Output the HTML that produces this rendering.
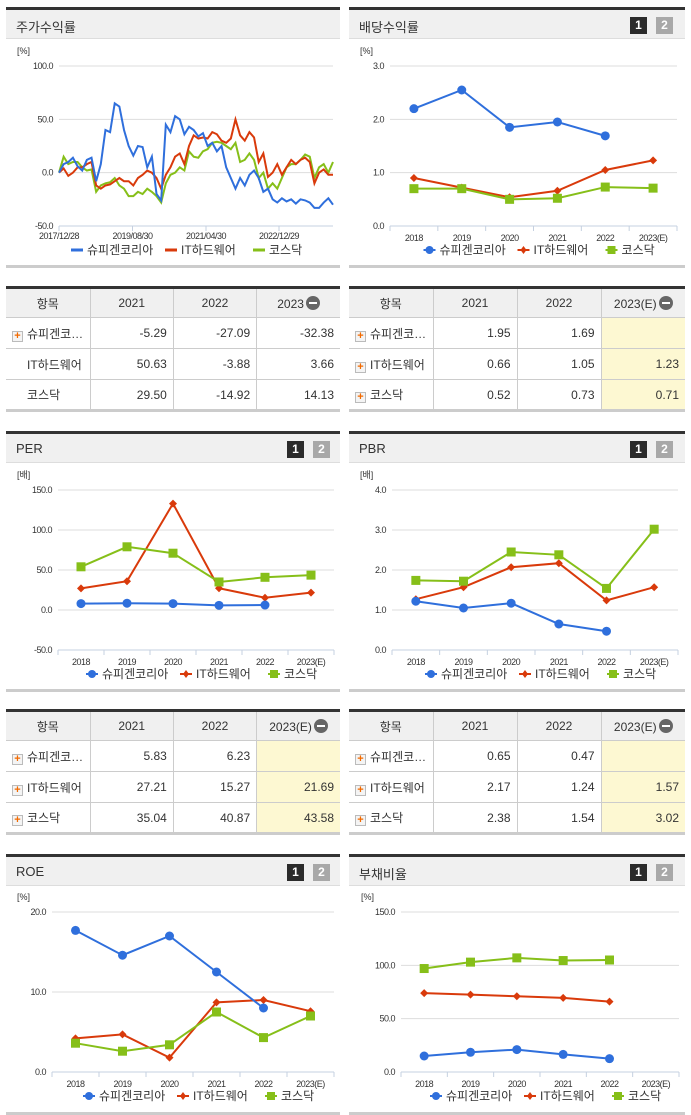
<!DOCTYPE html>
<html><head><meta charset="utf-8">
<style>
*{margin:0;padding:0;box-sizing:border-box}
body{width:691px;height:1115px;background:#fff;position:relative;overflow:hidden;font-family:"Liberation Sans","Noto Sans CJK KR",sans-serif;color:#333}
.hdr{position:absolute;height:32px;background:#f0f0f0;border-top:3px solid #333;border-bottom:1px solid #ddd}
.hdr .t{position:absolute;left:10px;top:7px;font-size:13px;color:#333}
.b1,.b2{position:absolute;top:7px;width:17px;height:17px;font-size:12px;font-weight:bold;color:#fff;text-align:center;line-height:17px}
.b1{background:#2b2b2b}.b2{background:#a8a8a8}
.foot{position:absolute;height:3px;background:#ccc}
table{position:absolute;border-collapse:collapse;font-size:12px;border-top:3px solid #333;border-bottom:3px solid #ccc;table-layout:fixed}
th{background:#f0f0f0;font-weight:normal;height:30px;border:1px solid #ccc;text-align:center}
td{height:31px;border:1px solid #ccc;text-align:right;padding-right:6px}
td.n{text-align:left;padding-left:6px}
tr>*:first-child{border-left:none}tr>*:last-child{border-right:none}
td.y{background:#fdf8d2}
.pl{display:inline-block;width:11px;height:11px;border:1px solid #bbb;background:#f4f4f4;color:#f26a00;font-size:11px;line-height:9px;text-align:center;font-weight:bold;margin-right:4px;vertical-align:-1px}
.sp{display:inline-block;width:15px}
.mi{display:inline-block;width:14px;height:14px;border-radius:7px;background:#666;vertical-align:-2px;position:relative;margin-left:2px}
.mi:after{content:"";position:absolute;left:3px;top:6px;width:8px;height:2px;background:#fff}
svg{position:absolute;left:0;top:0}
</style></head><body>

<div class="hdr" style="left:6px;top:7px;width:334px"><span class="t">주가수익률</span></div>
<div class="hdr" style="left:349px;top:7px;width:336px"><span class="t">배당수익률</span><span class="b1" style="left:281px">1</span><span class="b2" style="left:307px">2</span></div>
<div class="foot" style="left:6px;top:265px;width:334px"></div>
<div class="foot" style="left:349px;top:265px;width:336px"></div>

<table style="left:6px;top:286px;width:334px">
<tr><th style="width:84px">항목</th><th>2021</th><th>2022</th><th>2023<span class="mi"></span></th></tr>
<tr><td class="n"><span class="pl">+</span>슈피겐코…</td><td>-5.29</td><td>-27.09</td><td>-32.38</td></tr>
<tr><td class="n"><span class="sp"></span>IT하드웨어</td><td>50.63</td><td>-3.88</td><td>3.66</td></tr>
<tr><td class="n"><span class="sp"></span>코스닥</td><td>29.50</td><td>-14.92</td><td>14.13</td></tr>
</table>
<table style="left:349px;top:286px;width:336px">
<tr><th style="width:84px">항목</th><th>2021</th><th>2022</th><th>2023(E)<span class="mi"></span></th></tr>
<tr><td class="n"><span class="pl">+</span>슈피겐코…</td><td>1.95</td><td>1.69</td><td class="y"></td></tr>
<tr><td class="n"><span class="pl">+</span>IT하드웨어</td><td>0.66</td><td>1.05</td><td class="y">1.23</td></tr>
<tr><td class="n"><span class="pl">+</span>코스닥</td><td>0.52</td><td>0.73</td><td class="y">0.71</td></tr>
</table>

<div class="hdr" style="left:6px;top:431px;width:334px"><span class="t">PER</span><span class="b1" style="left:281px">1</span><span class="b2" style="left:307px">2</span></div>
<div class="hdr" style="left:349px;top:431px;width:336px"><span class="t">PBR</span><span class="b1" style="left:281px">1</span><span class="b2" style="left:307px">2</span></div>
<div class="foot" style="left:6px;top:689px;width:334px"></div>
<div class="foot" style="left:349px;top:689px;width:336px"></div>

<table style="left:6px;top:709px;width:334px">
<tr><th style="width:84px">항목</th><th>2021</th><th>2022</th><th>2023(E)<span class="mi"></span></th></tr>
<tr><td class="n"><span class="pl">+</span>슈피겐코…</td><td>5.83</td><td>6.23</td><td class="y"></td></tr>
<tr><td class="n"><span class="pl">+</span>IT하드웨어</td><td>27.21</td><td>15.27</td><td class="y">21.69</td></tr>
<tr><td class="n"><span class="pl">+</span>코스닥</td><td>35.04</td><td>40.87</td><td class="y">43.58</td></tr>
</table>
<table style="left:349px;top:709px;width:336px">
<tr><th style="width:84px">항목</th><th>2021</th><th>2022</th><th>2023(E)<span class="mi"></span></th></tr>
<tr><td class="n"><span class="pl">+</span>슈피겐코…</td><td>0.65</td><td>0.47</td><td class="y"></td></tr>
<tr><td class="n"><span class="pl">+</span>IT하드웨어</td><td>2.17</td><td>1.24</td><td class="y">1.57</td></tr>
<tr><td class="n"><span class="pl">+</span>코스닥</td><td>2.38</td><td>1.54</td><td class="y">3.02</td></tr>
</table>

<div class="hdr" style="left:6px;top:854px;width:334px"><span class="t">ROE</span><span class="b1" style="left:281px">1</span><span class="b2" style="left:307px">2</span></div>
<div class="hdr" style="left:349px;top:854px;width:336px"><span class="t">부채비율</span><span class="b1" style="left:281px">1</span><span class="b2" style="left:307px">2</span></div>
<div class="foot" style="left:6px;top:1112px;width:334px"></div>
<div class="foot" style="left:349px;top:1112px;width:336px"></div>

<svg id="chart" width="691" height="1115"></svg>

<script>
// Stock return series (60 samples, 2017/12/28 .. 2023)
const srBlue=[0,8,10,14,6,2,12,14,-8,8,40,38,65,62,40,25,16,25,24,5,15,-20,-26,45,38,53,50,36,43,40,34,37,25,28,20,25,5,-5,-15,-5,-12,-2,2,-5,-18,-15,-25,-28,-24,-27,-25,-29,-25,-26,-28,-33,-33,-28,-24,-30];
const srRed=[0,4,-3,0,5,5,8,10,-12,-15,-12,-11,-8,-5,-8,-8,-12,-5,-2,2,0,-5,-15,-2,5,15,18,8,25,35,32,33,32,38,36,30,28,32,50,35,30,38,33,10,18,-4,0,8,-2,5,12,8,12,14,10,-10,0,3,-2,-2];
const srGreen=[0,15,8,10,10,5,2,3,-18,-12,-10,-9,-5,-12,-15,-22,-22,-18,-20,-15,-18,-22,-28,-10,-2,0,5,2,20,15,14,20,22,28,29,28,25,22,28,10,12,18,12,-5,0,-15,-10,-15,-5,5,8,8,12,17,15,-5,5,8,0,10];
const srTicks=["100.0","50.0","0.0","-50.0"];
const srDates=["2017/12/28","2019/08/30","2021/04/30","2022/12/29"];
const years=["2018","2019","2020","2021","2022","2023(E)"];
const divBlue=[2.2,2.55,1.85,1.95,1.69,null];
const divRed=[0.9,0.72,0.54,0.66,1.05,1.23];
const divGreen=[0.7,0.7,0.5,0.52,0.73,0.71];
const perBlue=[8,8.5,8,5.83,6.23,null];
const perRed=[27,36,133,27.21,15.27,21.69];
const perGreen=[54,79,71,35.04,40.87,43.58];
const pbrBlue=[1.22,1.05,1.17,0.65,0.47,null];
const pbrRed=[1.27,1.57,2.07,2.17,1.24,1.57];
const pbrGreen=[1.74,1.72,2.45,2.38,1.54,3.02];
const roeBlue=[17.7,14.6,17,12.5,8,null];
const roeRed=[4.2,4.7,1.8,8.7,9,7.6];
const roeGreen=[3.6,2.6,3.4,7.5,4.3,7];
const debtBlue=[15,18.5,21,16.5,12.5,null];
const debtRed=[74,72.5,71,69.5,66,null];
const debtGreen=[97,103,107,104.5,105,null];

const NS="http://www.w3.org/2000/svg";
const svg=document.getElementById('chart');
const C={b:"#2f6fdc",r:"#d93a0b",g:"#86bf19"};
function mk(tag,at,txt){const e=document.createElementNS(NS,tag);for(const k in at)e.setAttribute(k,at[k]);if(txt!=null)e.textContent=txt;svg.appendChild(e);return e;}

function frame(o){
  const t=mk('text',{x:o.ux,y:o.y0-12,'font-size':9,fill:'#333'},o.unit);
  
  
  o.ticks.forEach((v,i)=>{
    const y=o.ys(v);
    if(i<o.ticks.length-1){const g=mk('line',{x1:o.x0,x2:o.x1,y1:y,y2:y,stroke:'#ddd','stroke-width':1});
      
      }
    const l=mk('text',{x:o.x0-6,y:y+3,'font-size':9,'text-anchor':'end',fill:'#333','letter-spacing':'-0.5'},v.toFixed(1));
    
    
  });
  const yb=o.ys(o.ticks[o.ticks.length-1]);
  const ax=mk('line',{x1:o.x0,x2:o.x1,y1:yb,y2:yb,stroke:'#c5d0e0','stroke-width':1});
  
  
  const ya=mk('line',{x1:o.x0,x2:o.x0,y1:o.ys(o.ticks[0]),y2:yb,stroke:'#fff','stroke-width':0});
  return yb;
}
function legend(cx,y,markers){
  const items=[["슈피겐코리아",C.b],["IT하드웨어",C.r],["코스닥",C.g]];
  const widths=[78,72,44];let x=cx-102;
  items.forEach((it,i)=>{
    if(markers){
      if(i==0)mk('circle',{cx:x+6,cy:y-4,r:4,fill:it[1]});
      if(i==1)mk('path',{d:`M${x+6} ${y-8}L${x+9} ${y-4}L${x+6} ${y}L${x+3} ${y-4}Z`,fill:it[1]});
      if(i==2)mk('rect',{x:x+2,y:y-8,width:8,height:8,fill:it[1]});
      mk('line',{x1:x,x2:x+12,y1:y-4,y2:y-4,stroke:it[1],'stroke-width':2});
    } else mk('line',{x1:x,x2:x+12,y1:y-4,y2:y-4,stroke:it[1],'stroke-width':3});
    const t=mk('text',{x:x+16,y:y,'font-size':12,fill:'#333'},it[0]);
    
    
    x+=widths[i]+16;
  });
}
function catChart(o){
  const n=years.length,bw=(o.x1-o.x0)/n;
  const yb=frame(o);
  for(let i=0;i<=n;i++){mk('line',{x1:o.x0+i*bw,x2:o.x0+i*bw,y1:yb,y2:yb+5,stroke:'#c5d0e0'});}
  years.forEach((y,i)=>{const t=mk('text',{x:o.x0+(i+.5)*bw,y:yb+15,'font-size':9,'text-anchor':'middle',fill:'#333','letter-spacing':'-0.5'},y);
    
    });
  const xs=i=>o.x0+(i+.5)*bw;
  [[o.r,C.r,'d'],[o.g,C.g,'s'],[o.b,C.b,'c']].forEach(s=>{
    const pts=[];s[0].forEach((v,i)=>{if(v!=null)pts.push([xs(i),o.ys(v)]);});
    const p=mk('polyline',{points:pts.map(p=>p.join(',')).join(' '),fill:'none',stroke:s[1],'stroke-width':2});
    
    
    pts.forEach(([x,y])=>{let m;
      if(s[2]=='c')m=mk('circle',{cx:x,cy:y,r:4.5,fill:s[1]});
      else if(s[2]=='s')m=mk('rect',{x:x-4.5,y:y-4.5,width:9,height:9,fill:s[1]});
      else m=mk('path',{d:`M${x} ${y-4}L${x+4} ${y}L${x} ${y+4}L${x-4} ${y}Z`,fill:s[1]});
      
      });
  });
  legend((o.x0+o.x1)/2-8,yb+28,true);
}
function lin(vmax,vmin,ytop,ybot){return v=>ytop+(vmax-v)/(vmax-vmin)*(ybot-ytop);}

// Stock return chart
(function(){
  const o={x0:59,x1:333,ux:17,y0:66,unit:"[%]",ticks:[100,50,0,-50],ys:lin(100,-50,66,226)};
  const yb=frame(o);
  const dx=[0,73.5,147,220];
  dx.forEach((d,i)=>{mk('line',{x1:o.x0+d,x2:o.x0+d,y1:yb,y2:yb+5,stroke:'#c5d0e0'});
    const t=mk('text',{x:o.x0+d,y:yb+13,'font-size':9,'text-anchor':'middle',fill:'#333','letter-spacing':'-0.5'},srDates[i]);
    
    });
  mk('line',{x1:o.x0,x2:o.x0,y1:yb,y2:yb+5,stroke:'#c5d0e0'});
  const n=srBlue.length,xs=i=>o.x0+i*(o.x1-o.x0)/(n-1);
  [[srGreen,C.g],[srRed,C.r],[srBlue,C.b]].forEach(s=>{
    const p=mk('polyline',{points:s[0].map((v,i)=>xs(i)+','+o.ys(v)).join(' '),fill:'none',stroke:s[1],'stroke-width':2});
    
    });
  legend(173,254,false);
})();
catChart({x0:390,x1:677,ux:360,y0:66,unit:"[%]",ticks:[3,2,1,0],ys:lin(3,0,66,226),b:divBlue,r:divRed,g:divGreen});
catChart({x0:58,x1:334,ux:17,y0:490,unit:"[배]",ticks:[150,100,50,0,-50],ys:lin(150,-50,490,650),b:perBlue,r:perRed,g:perGreen});
catChart({x0:392,x1:678,ux:360,y0:490,unit:"[배]",ticks:[4,3,2,1,0],ys:lin(4,0,490,650),b:pbrBlue,r:pbrRed,g:pbrGreen});
catChart({x0:52,x1:334,ux:17,y0:912,unit:"[%]",ticks:[20,10,0],ys:lin(20,0,912,1072),b:roeBlue,r:roeRed,g:roeGreen});
catChart({x0:401,x1:679,ux:361,y0:912,unit:"[%]",ticks:[150,100,50,0],ys:lin(150,0,912,1072),b:debtBlue,r:debtRed,g:debtGreen});
</script>
</body></html>
